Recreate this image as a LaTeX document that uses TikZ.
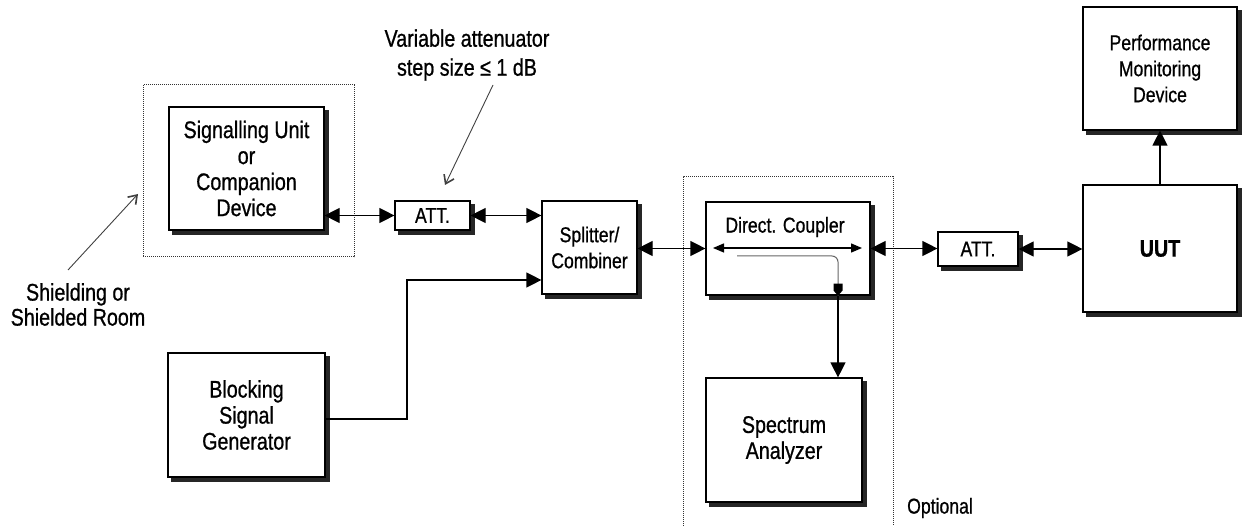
\documentclass[tikz,border=0pt]{standalone}
\usepackage{fontspec}
\setmainfont[FakeStretch=0.82,FakeBold=0.8]{Liberation Sans}
\usetikzlibrary{arrows.meta}
\tikzset{
  bigtxt/.style={font=\fontsize{24}{26}\selectfont},
  smalltxt/.style={font=\fontsize{21.5}{26}\selectfont},
  blockbox/.style={draw=black, line width=1.2pt, fill=white, align=center, inner sep=0pt},
  shadowfill/.style={fill=black!85},
  dotbox/.style={draw=black!80, densely dotted, line width=1pt},
  link/.style={line width=1.2pt, {Triangle[length=15pt,width=15pt]}-{Triangle[length=15pt,width=15pt]}},
  oneway/.style={line width=1.2pt, -{Triangle[length=15pt,width=15pt]}},
  inner/.style={line width=1.3pt, {Triangle[length=11pt,width=9pt]}-{Triangle[length=11pt,width=9pt]}},
  tap/.style={draw=black!60, line width=1pt, rounded corners=6pt},
  note/.style={draw=black!75, line width=0.9pt, -{Straight Barb[length=8pt,width=11pt,line width=1.6pt]}},
}
\begin{document}
\begin{tikzpicture}[x=1pt,y=-1pt]
\useasboundingbox (0,0) rectangle (1247,526);

% dotted enclosures
\node[dotbox, minimum width=211pt, minimum height=172pt, inner sep=0pt] (shield) at (248.5,171) {};
\draw[dotbox] (683,526) -- (683,177) -- (893,177) -- (893,526);

% blocks
\node[blockbox, bigtxt, minimum width=155pt, minimum height=123pt] (su) at (246.5,168.5)
  {Signalling Unit\\or\\Companion\\Device};
\node[blockbox, smalltxt, minimum width=75pt, minimum height=29pt] (att1) at (432.5,215.5) {ATT.};
\node[blockbox, smalltxt, minimum width=95pt, minimum height=93pt] (split) at (589.5,247.5)
  {Splitter/\\Combiner};
\node[blockbox, bigtxt, minimum width=157pt, minimum height=124pt] (blk) at (246.5,415)
  {Blocking\\Signal\\Generator};
\node[blockbox, minimum width=164pt, minimum height=93pt] (coup) at (788,248.5) {};
\node[smalltxt, inner sep=0pt] (couptxt) at (785,227) {Direct. Coupler};
\node[blockbox, smalltxt, minimum width=80pt, minimum height=34pt] (att2) at (978,249) {ATT.};
\node[blockbox, bigtxt, minimum width=154pt, minimum height=127pt] (uut) at (1160,248.5) {\bfseries UUT};
\node[blockbox, smalltxt, minimum width=154pt, minimum height=123pt] (perf) at (1160,68.5)
  {Performance\\Monitoring\\Device};
\node[blockbox, bigtxt, minimum width=156pt, minimum height=124pt] (spec) at (784,440)
  {Spectrum\\Analyzer};

% drop shadows (right and bottom strips)
\foreach \n in {su,att1,split,blk,coup,att2,uut,perf,spec}{
  \fill[shadowfill] ([xshift=0.6pt,yshift=-4pt]\n.north east) rectangle ([xshift=4pt,yshift=-4pt]\n.south east);
  \fill[shadowfill] ([xshift=4pt,yshift=-0.6pt]\n.south west) rectangle ([xshift=4pt,yshift=-4pt]\n.south east);
}

% labels
\node[align=center, inner sep=0pt, font=\fontsize{24}{29}\selectfont] (var) at (467,55)
  {Variable attenuator\\step size ≤ 1 dB};
\node[align=center, inner sep=0pt, font=\fontsize{24}{25}\selectfont] (shtxt) at (78,304.5)
  {Shielding or\\Shielded Room};
\node[smalltxt, inner sep=0pt] (opt) at (940,508) {Optional};

% annotation arrows
\coordinate (sha) at (68,270);
\coordinate (shb) at (138,194);
\draw[note] (sha) -- (shb);
\coordinate (vara) at (493,85);
\coordinate (varb) at (445,185);
\draw[note] (vara) -- (varb);

% connectors
\draw[link] (su.east |- att1.west) -- (att1.west);
\draw[link] (att1.east) -- (split.west |- att1.east);
\draw[link] (split.east |- coup.west) -- (coup.west);
\draw[link] (coup.east) -- (att2.west |- coup.east);
\draw[link] (att2.east) -- (uut.west |- att2.east);
\draw[oneway] (uut.north) -- (perf.south);
\coordinate (bend) at (407,280);
\draw[oneway] ([yshift=-4pt]blk.east) -| (bend) -- (split.west |- bend);

% inside the coupler
\coordinate (ia) at (713,248);
\coordinate (ib) at (862,248);
\draw[inner] (ia) -- (ib);
\coordinate (ta) at (737,256);
\coordinate (tb) at (838,256);
\draw[tap] (ta) -- (tb) -- (coup.south -| tb);
\fill[black] ([xshift=-4.5pt,yshift=12pt]coup.south -| tb) -- ([xshift=4.5pt,yshift=12pt]coup.south -| tb)
  -- ([xshift=4.5pt,yshift=5pt]coup.south -| tb) -- ([yshift=0pt]coup.south -| tb)
  -- ([xshift=-4.5pt,yshift=5pt]coup.south -| tb) -- cycle;
\draw[oneway] (coup.south -| tb) -- (spec.north -| tb);
\end{tikzpicture}
\end{document}
